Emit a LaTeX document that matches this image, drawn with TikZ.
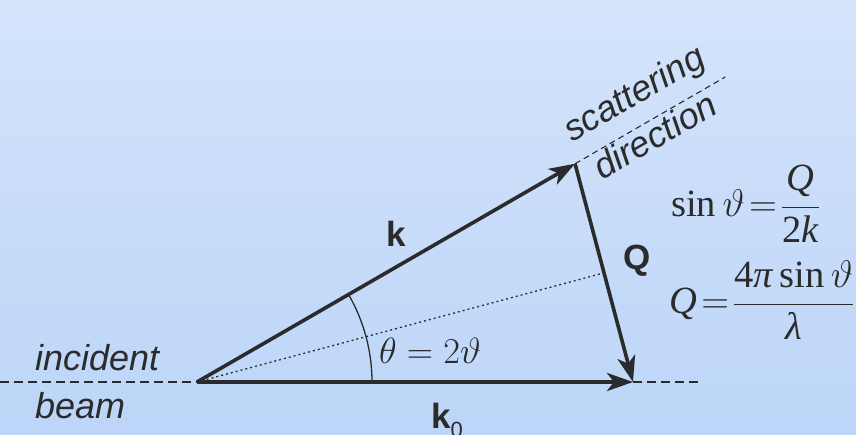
\RequirePackage{fix-cm}
\documentclass[tikz,border=0pt]{standalone}
\usepackage{fontspec}
\setmainfont{Liberation Sans}
\newfontfamily\tms{Liberation Serif}
\usetikzlibrary{arrows.meta,calc}
\definecolor{ink}{HTML}{2B2B2B}
\definecolor{bgtop}{HTML}{D4E4FB}
\definecolor{bgbot}{HTML}{BCD5F8}
\tikzset{
  vec/.style={draw=ink, line width=3.6pt, -{Stealth[length=26pt,width=18pt,inset=7pt]}},
  beamline/.style={draw=ink, line width=2pt, dash pattern=on 9pt off 5pt},
  scatline/.style={draw=ink, line width=1.1pt, dash pattern=on 6pt off 4pt},
  bisect/.style={draw=ink, line width=1.3pt, dash pattern=on 2pt off 3pt},
  anglearc/.style={draw=ink, line width=1.3pt},
  lbl/.style={text=ink, inner sep=0pt, font=\fontsize{35}{42}\selectfont},
  bold/.style={lbl, font=\fontsize{35}{42}\selectfont\bfseries},
  ital/.style={lbl, font=\fontsize{36}{42}\selectfont\itshape},
  frm/.style={text=ink, inner sep=0pt, font=\fontsize{38.5}{46}\selectfont}
}
\begin{document}
\begin{tikzpicture}[x=1pt,y=1pt]
\shade[top color=bgtop, bottom color=bgbot] (0,0) rectangle (856,434);
\useasboundingbox (0,0) rectangle (856,434);
% points
\coordinate (O) at (197,52);
\coordinate (K0) at (633,52);
\coordinate (K) at ($(O)+(30:436.5)$);
\coordinate (L) at (0,52);
\coordinate (R) at (700,52);
\coordinate (S) at ($(O)+(30:610)$);
\coordinate (M) at ($(K)!0.5!(K0)$);
% dashed guide lines
\draw[beamline] (L) -- (O);
\draw[beamline] (K0) -- (R);
\draw[scatline] (K) -- (S);
\draw[bisect] (O) -- (M);
\draw[anglearc] ($(O)+(175,0)$) arc[start angle=0, end angle=30, radius=175];
% vectors
\draw[vec] (O) -- (K0);
\draw[vec] (O) -- (K);
\draw[vec] (K) -- (K0);
% labels
\node[bold] (lk) at (396,200) {k};
\node[bold] (lq) at (637,173) {Q};
\node[bold, anchor=base west] (lk0) at (431,6) {k\raisebox{-0.5ex}{\fontsize{22}{22}\selectfont\mdseries 0}};
\node[ital, anchor=base west] (linc) at (35,64) {incident};
\node[ital, anchor=base west] (lbeam) at (35,16) {beam};
\node[ital, anchor=base west, rotate=30] (lsc) at (572,291) {scattering};
\node[ital, anchor=base west, rotate=30] (ldir) at (602,253) {direction};
\node[text=ink, inner sep=0pt, anchor=base west, font=\fontsize{36.5}{44}\selectfont] (lth) at (379,71) {$\theta = 2\vartheta$};
\node[frm, anchor=base west] (f1) at (671,217.5) {$\displaystyle \mbox{\tms sin}\,\vartheta\!=\!\frac{\mbox{\tms\itshape Q}}{\mbox{\tms 2\itshape k}}$};
\node[frm, anchor=base west] (f2) at (669,120.5) {$\displaystyle \mbox{\tms\itshape Q}\!=\!\frac{\mbox{\tms 4\itshape π}\,\mbox{\tms sin}\,\vartheta}{\mbox{\tms\itshape λ}}$};
\end{tikzpicture}
\end{document}
